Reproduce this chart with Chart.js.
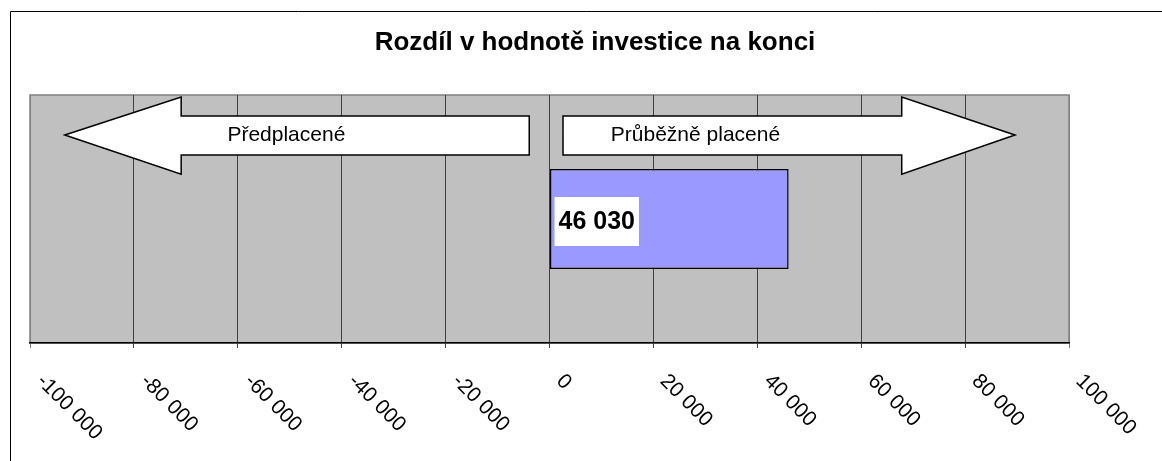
<!DOCTYPE html>
<html>
<head>
<meta charset="utf-8">
<script src="https://cdn.jsdelivr.net/npm/chart.js@4/dist/chart.umd.min.js"></script>
<style>
body { margin: 0; background: #fff; }
</style>
</head>
<body>
<canvas id="myChart" width="1162" height="461"></canvas>
<script>
const categories = ['Rozdíl'];
const differences = [46030];
const tickValues = [-100000, -80000, -60000, -40000, -20000, 0, 20000, 40000, 60000, 80000, 100000];
const arrowLabels = ['Předplacené', 'Průběžně placené'];
const chartTitle = 'Rozdíl v hodnotě investice na konci';

const FONT = 'Arial, "Liberation Sans", sans-serif';

function fmt(v) {
	const s = String(Math.abs(v)).replace(/\B(?=(\d{3})+(?!\d))/g, ' ');
	return (v < 0 ? '-' : '') + s;
}

// background, outer frame and title
const frame = {
	id: 'frame',
	beforeDraw(chart) {
		const {ctx, chartArea: a} = chart;
		ctx.save();
		ctx.strokeStyle = '#000';
		ctx.lineWidth = 1;
		ctx.beginPath();
		ctx.moveTo(10.5, chart.height);
		ctx.lineTo(10.5, 11.5);
		ctx.lineTo(chart.width, 11.5);
		ctx.stroke();

		ctx.fillStyle = '#c0c0c0';
		ctx.fillRect(a.left, a.top, a.right - a.left, a.bottom - a.top);
		ctx.strokeStyle = '#808080';
		ctx.lineWidth = 1.5;
		ctx.strokeRect(a.left, a.top, a.right - a.left, a.bottom - a.top);

		ctx.fillStyle = '#000';
		ctx.font = 'bold 26px ' + FONT;
		ctx.textAlign = 'center';
		ctx.textBaseline = 'middle';
		ctx.fillText(chartTitle, chart.width / 2 + 14, 43);
		ctx.restore();
	}
};

// the two big arrows (positions in axis units)
function drawArrow(ctx, x, a, tip, back, end, label, textAt) {
	const h = a.bottom - a.top;
	const yHeadTop = a.top + h * 0.008;
	const yShaftTop = a.top + h * 0.085;
	const yMid = a.top + h * 0.161;
	const yShaftBot = a.top + h * 0.242;
	const yHeadBot = a.top + h * 0.319;
	const pt = x.getPixelForValue(tip), pb = x.getPixelForValue(back), pe = x.getPixelForValue(end);
	ctx.beginPath();
	ctx.moveTo(pt, yMid);
	ctx.lineTo(pb, yHeadTop);
	ctx.lineTo(pb, yShaftTop);
	ctx.lineTo(pe, yShaftTop);
	ctx.lineTo(pe, yShaftBot);
	ctx.lineTo(pb, yShaftBot);
	ctx.lineTo(pb, yHeadBot);
	ctx.closePath();
	ctx.fillStyle = '#fff';
	ctx.fill();
	ctx.strokeStyle = '#000';
	ctx.lineWidth = 1.5;
	ctx.stroke();
	ctx.fillStyle = '#000';
	ctx.font = '21px ' + FONT;
	ctx.textAlign = 'left';
	ctx.textBaseline = 'middle';
	ctx.fillText(label, x.getPixelForValue(textAt), yMid);
}

const arrows = {
	id: 'arrows',
	afterDatasetsDraw(chart) {
		const {ctx, chartArea: a, scales: {x}} = chart;
		ctx.save();
		ctx.lineJoin = 'miter';
		drawArrow(ctx, x, a, -93300, -70900, -3900, arrowLabels[0], -62000);
		drawArrow(ctx, x, a, 89600, 67800, 2600, arrowLabels[1], 11800);
		ctx.restore();
	}
};

// value label in white box
const barLabel = {
	id: 'barLabel',
	afterDatasetsDraw(chart) {
		const {ctx} = chart;
		const bar = chart.getDatasetMeta(0).data[0];
		ctx.save();
		ctx.font = 'bold 25px ' + FONT;
		const txt = fmt(differences[0]);
		const w = ctx.measureText(txt).width;
		const left = bar.base + 4.5;
		ctx.fillStyle = '#fff';
		ctx.fillRect(left, bar.y - 22, w + 8, 49);
		ctx.fillStyle = '#000';
		ctx.textAlign = 'left';
		ctx.textBaseline = 'middle';
		ctx.fillText(txt, left + 4, bar.y + 3);
		ctx.restore();
	}
};

// x tick labels rotated 45 degrees clockwise
const tickLabels = {
	id: 'tickLabels',
	afterDraw(chart) {
		const {ctx, scales: {x}} = chart;
		ctx.save();
		ctx.font = '21px ' + FONT;
		ctx.fillStyle = '#000';
		ctx.textAlign = 'left';
		ctx.textBaseline = 'middle';
		tickValues.forEach(v => {
			ctx.save();
			ctx.translate(x.getPixelForValue(v) + 10, x.bottom + 30);
			ctx.rotate(Math.PI / 4);
			ctx.fillText(fmt(v), 0, 0);
			ctx.restore();
		});
		ctx.restore();
	}
};

var ctx = document.getElementById('myChart').getContext('2d');
const chart = new Chart(ctx, {
	type: 'bar',
	data: {
		labels: categories,
		datasets: [{
			data: differences,
			backgroundColor: '#9999ff',
			borderColor: '#000',
			borderWidth: 1.5,
			borderSkipped: false,
			barPercentage: 0.403,
			categoryPercentage: 1
		}]
	},
	options: {
		indexAxis: 'y',
		responsive: false,
		animation: false,
		layout: { padding: { left: 30, right: 93, top: 95, bottom: 113 } },
		plugins: {
			legend: { display: false },
			tooltip: { enabled: false },
			title: { display: false }
		},
		scales: {
			x: {
				min: -100000,
				max: 100000,
				ticks: { display: false, stepSize: 20000 },
				grid: {
					color: c => (c.index === 0 || c.index === tickValues.length - 1) ? '#808080' : '#404040',
					lineWidth: 1,
					tickLength: 5
				},
				border: { color: '#000', width: 1.5 }
			},
			y: { display: false }
		}
	},
	plugins: [frame, arrows, barLabel, tickLabels]
});
</script>
</body>
</html>
